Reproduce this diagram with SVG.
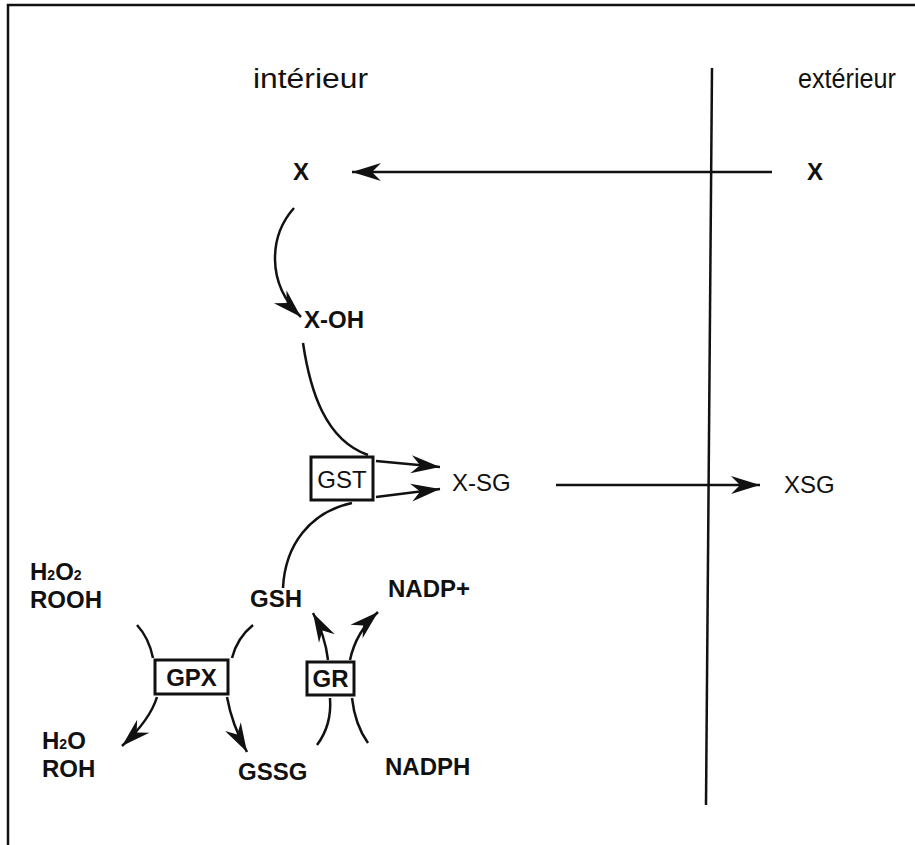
<svg xmlns="http://www.w3.org/2000/svg" width="915" height="845" viewBox="0 0 915 845">
<style>
text{font-family:"Liberation Sans",Arial,sans-serif;fill:#111;font-size:24px}
.b{font-weight:bold}
.m{text-anchor:middle}
.ln{fill:none;stroke:#111;stroke-width:2.5}
.ar{fill:none;stroke:#111;stroke-width:2.5;marker-end:url(#ah)}
.box{fill:#fff;stroke:#111;stroke-width:3}
.sub{font-size:14px}
.hd{font-size:27px}
</style>
<defs>
<marker id="ah" markerUnits="userSpaceOnUse" markerWidth="34" markerHeight="22" viewBox="-31 -11 34 22" refX="0" refY="0" orient="auto">
<path d="M0,0 L-29,-9 L-20,0 L-29,9 Z" fill="#111"/>
</marker>
</defs>
<rect width="915" height="845" fill="#fff"/>
<g id="frame"><path d="M8,845 V5 H915" class="ln"/></g>
<g id="membrane"><path d="M712,68 L706,805" class="ln"/></g>
<g id="interieur"><text class="hd" x="253" y="88" textLength="115" lengthAdjust="spacingAndGlyphs">intérieur</text></g>
<g id="exterieur"><text class="hd" x="798" y="88" textLength="98" lengthAdjust="spacingAndGlyphs">extérieur</text></g>
<g id="X-in"><text class="b" x="293" y="180" font-size="25">X</text></g>
<g id="X-out"><text class="b" x="807" y="180" font-size="25">X</text></g>
<g id="X-OH"><text class="b" x="304" y="328" font-size="25">X-OH</text></g>
<g id="GST"><rect class="box" x="311" y="457" width="62" height="43"/><text class="m" x="342" y="488" font-size="25">GST</text></g>
<g id="X-SG"><text x="452" y="491" font-size="26">X-SG</text></g>
<g id="XSG"><text x="784" y="493" font-size="26">XSG</text></g>
<g id="H2O2-ROOH"><text class="b" x="30" y="580" font-size="21">H<tspan class="sub">2</tspan>O<tspan class="sub">2</tspan></text><text class="b" x="30" y="608" font-size="23">ROOH</text></g>
<g id="GSH"><text class="b" x="250" y="607">GSH</text></g>
<g id="NADPplus"><text class="b" x="388" y="597">NADP+</text></g>
<g id="GPX"><rect class="box" x="155" y="660" width="73" height="34"/><text class="b m" x="191.5" y="686">GPX</text></g>
<g id="GR"><rect class="box" x="307" y="662" width="47" height="33"/><text class="b m" x="330.5" y="687">GR</text></g>
<g id="H2O-ROH"><text class="b" x="42" y="749" font-size="22">H<tspan class="sub">2</tspan>O</text><text class="b" x="42" y="777" font-size="23">ROH</text></g>
<g id="GSSG"><text class="b" x="238" y="780" font-size="26">GSSG</text></g>
<g id="NADPH"><text class="b" x="385" y="775" font-size="22">NADPH</text></g>
<g id="connectors">
<path class="ar" d="M772,172 L352,172"/>
<path class="ar" d="M294,208 C270,235 265,282 301,317"/>
<path class="ln" d="M303,343 C310,390 325,440 368,455"/>
<path class="ar" d="M376,461 L440,467"/>
<path class="ar" d="M376,497 L440,489"/>
<path class="ln" d="M283,588 C285,545 310,512 352,503"/>
<path class="ar" d="M556,485 L760,485"/>
<path class="ln" d="M137,625 Q149,638 153,658"/>
<path class="ln" d="M253,625 Q237,638 232,658"/>
<path class="ar" d="M157,697 Q150,720 122,746"/>
<path class="ar" d="M227,697 Q232,725 247,752"/>
<path class="ar" d="M328,660 Q325,635 313,613"/>
<path class="ar" d="M350,660 Q356,632 378,612"/>
<path class="ln" d="M317,745 Q332,725 330,698"/>
<path class="ln" d="M368,743 Q355,725 352,698"/>
</g>
</svg>
